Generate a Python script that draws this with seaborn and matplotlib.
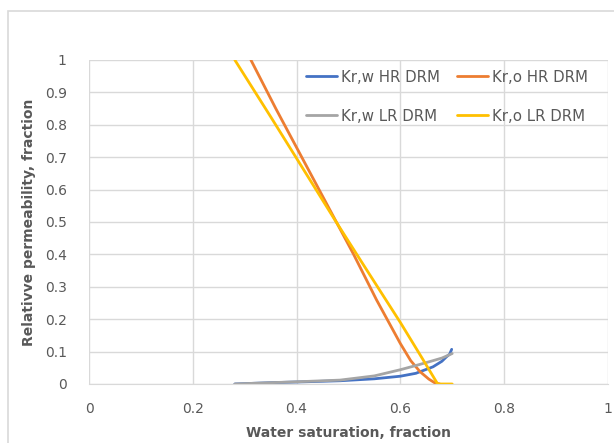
import numpy as np
import pandas as pd
import matplotlib
matplotlib.use("Agg")
import matplotlib.pyplot as plt
import seaborn as sns
from matplotlib.patches import Rectangle

# Relative permeability curves
sw_w_hr = [0.281, 0.35, 0.42, 0.484, 0.55, 0.60, 0.63, 0.663, 0.68, 0.689, 0.695, 0.699]
krw_hr = [0.0, 0.004, 0.007, 0.010, 0.016, 0.024, 0.033, 0.053, 0.070, 0.084, 0.092, 0.107]

sw_o_hr = [0.312, 0.36, 0.41, 0.46, 0.51, 0.554, 0.60, 0.62, 0.638, 0.655, 0.666, 0.676]
kro_hr = [1.0, 0.85, 0.70, 0.55, 0.40, 0.26, 0.125, 0.072, 0.038, 0.015, 0.004, 0.0]

sw_w_lr = [0.281, 0.35, 0.42, 0.484, 0.55, 0.60, 0.63, 0.663, 0.68, 0.70]
krw_lr = [0.0, 0.004, 0.008, 0.012, 0.025, 0.044, 0.057, 0.072, 0.080, 0.094]

sw_o_lr = [0.281, 0.35, 0.42, 0.474, 0.53, 0.60, 0.64, 0.672, 0.70]
kro_lr = [1.0, 0.825, 0.645, 0.506, 0.365, 0.19, 0.085, 0.0, 0.0]

labels = ["Kr,w HR DRM", "Kr,o HR DRM", "Kr,w LR DRM", "Kr,o LR DRM"]
colors = ["#4472C4", "#ED7D31", "#A5A5A5", "#FFC000"]

frames = []
for lab, x, y in zip(labels, [sw_w_hr, sw_o_hr, sw_w_lr, sw_o_lr], [krw_hr, kro_hr, krw_lr, kro_lr]):
    frames.append(pd.DataFrame({"Sw": x, "kr": y, "curve": lab}))
df = pd.concat(frames, ignore_index=True)

sns.set_style("white")
plt.rcParams["font.family"] = ["DejaVu Sans"]

fig = plt.figure(figsize=(6.14, 4.43), dpi=100)
ax = fig.add_axes([0.145, 0.1332, 0.845, 0.7314])

# outer chart-area border (Excel style)
fig.patches.append(Rectangle((8 / 614, -0.1), 1.2, 1.1 - 11 / 443, transform=fig.transFigure,
                             fill=False, edgecolor="#d9d9d9", linewidth=1.2))

sns.lineplot(data=df, x="Sw", y="kr", hue="curve", hue_order=labels, palette=colors,
             sort=False, estimator=None, linewidth=2.0, ax=ax, legend=True)

ax.set_xlim(0, 1)
ax.set_ylim(0, 1)
ax.set_xticks(np.arange(0, 1.01, 0.2))
ax.set_xticklabels(["0", "0.2", "0.4", "0.6", "0.8", "1"])
ax.set_yticks(np.arange(0, 1.01, 0.1))
ax.set_yticklabels(["0", "0.1", "0.2", "0.3", "0.4", "0.5", "0.6", "0.7", "0.8", "0.9", "1"])
ax.grid(True, color="#d9d9d9", linewidth=1.0)
ax.set_axisbelow(True)
for s in ["top", "right", "left"]:
    ax.spines[s].set_visible(False)
ax.spines["bottom"].set_color("#d9d9d9")
ax.tick_params(axis="both", length=0, labelsize=10, labelcolor="#595959")
ax.tick_params(axis="x", pad=13)
ax.tick_params(axis="y", pad=16)

ax.set_xlabel("Water saturation, fraction", fontsize=10, fontweight="bold", color="#595959", labelpad=7)
ax.set_ylabel("Relativve permeability, fraction", fontsize=10, fontweight="bold", color="#595959", labelpad=6)

# legend in two columns, filled row by row like Excel
h, l = ax.get_legend_handles_labels()
order = [0, 2, 1, 3]
ax.legend([h[i] for i in order], [l[i] for i in order], loc="upper left",
          bbox_to_anchor=(0.392, 1.012), ncol=2, frameon=False,
          fontsize=10.8, labelcolor="#595959", handlelength=2.1, handletextpad=0.25,
          columnspacing=1.1, labelspacing=1.6)

fig.savefig("out.png", dpi=100)
